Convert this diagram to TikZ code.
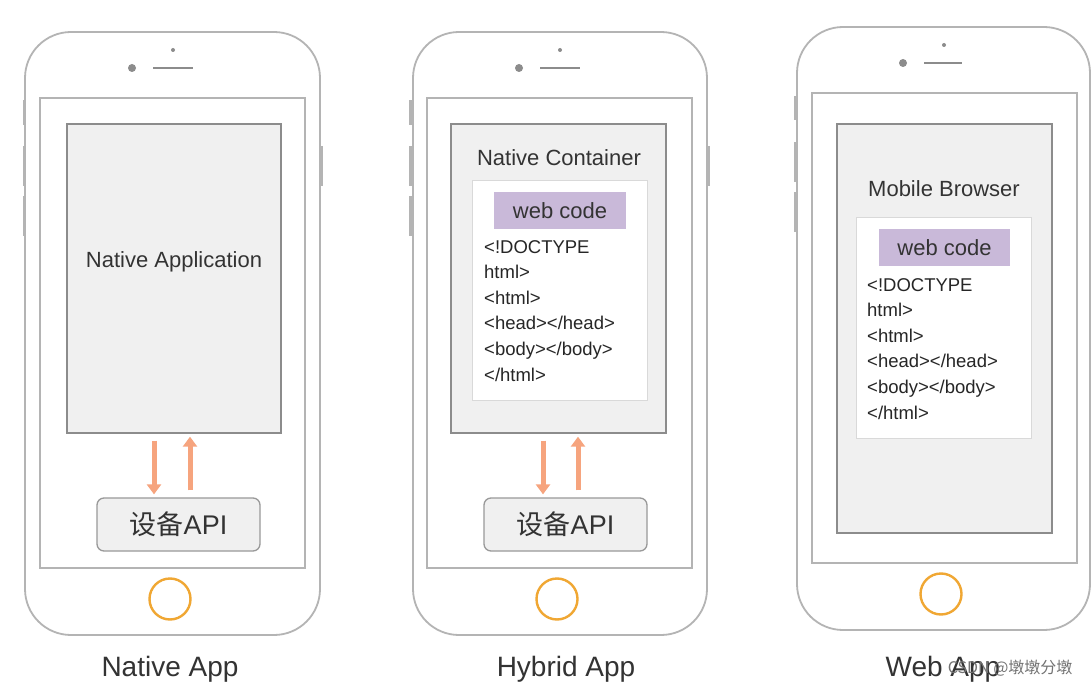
\documentclass[tikz,border=0pt]{standalone}
\usepackage{fontspec}
\setmainfont{Liberation Sans}
\newfontfamily\cjk{Noto Sans CJK SC}
\usetikzlibrary{arrows.meta}
\definecolor{txt}{HTML}{333333}
\definecolor{frame}{HTML}{B4B4B4}
\definecolor{panelfill}{HTML}{F0F0F0}
\definecolor{webc}{HTML}{C9B9D9}
\definecolor{arr}{HTML}{F6A47E}
\definecolor{homec}{HTML}{F0A733}
\begin{document}
\begin{tikzpicture}[x=1pt,y=-1pt,
  body/.style={draw=frame, line width=1.8pt, rounded corners=46pt, fill=white},
  scr/.style={draw=frame, line width=1.4pt},
  sidebtn/.style={fill=frame, draw=none},
  panel/.style={draw=black!45, line width=1.4pt, fill=panelfill, inner sep=0pt, text=txt, font=\fontsize{22}{26}\selectfont},
  codebox/.style={draw=black!15, line width=0.8pt, fill=white, inner sep=0pt},
  webcode/.style={fill=webc, inner sep=0pt, minimum width=132pt, minimum height=37pt, text=txt, font=\fontsize{22}{26}\selectfont},
  codetext/.style={anchor=north west, inner sep=0pt, align=left, text=black!85, font=\fontsize{18.5}{25.6}\selectfont},
  apibox/.style={draw=black!40, line width=1.3pt, fill=panelfill, rounded corners=7pt, minimum width=163pt, minimum height=53pt, inner sep=0pt, text=txt, font=\fontsize{27}{30}\selectfont},
  flow/.style={draw=arr, line width=5pt, -{Triangle[width=14pt,length=10pt]}, shorten <=7pt, shorten >=3pt},
  home/.style={draw=homec, line width=2.4pt, circle, minimum size=41pt, inner sep=0pt},
  caption/.style={text=txt, font=\fontsize{28}{32}\selectfont},
  cam/.style={fill=black!45, circle, inner sep=0pt},
  speaker/.style={draw=black!45, line width=1.6pt}
]
\useasboundingbox (0,0) rectangle (1092,687);
\fill[white] (0,0) rectangle (1092,687);

% ---------- Phone 1: Native App ----------
\fill[sidebtn] (22.5,100) rectangle (25.5,125);
\fill[sidebtn] (22.5,146) rectangle (25.5,186);
\fill[sidebtn] (22.5,196) rectangle (25.5,236);
\fill[sidebtn] (319.5,146) rectangle (322.5,186);
\draw[body] (25,32) rectangle (320,635);
\draw[scr] (40,98) rectangle (305,568);
\fill[cam] (132,68) circle (4pt);
\draw[speaker] (153,68) -- (193,68);
\fill[cam] (173,50) circle (2pt);
\node[panel, minimum width=214pt, minimum height=309pt] (app1) at (174,278.5) {};
\node[text=txt, font=\fontsize{22}{26}\selectfont] (app1t) at (174,262) {Native Application};
\node[apibox] (api1) at (178.5,524.5) {{\cjk 设备}API};
\draw[flow] (app1.south -| 154,0) -- (api1.north -| 154,0);
\draw[flow] (api1.north -| 190,0) -- (app1.south -| 190,0);
\node[home] (home1) at (170,599) {};
\node[caption] (cap1) at (170,669) {Native App};

% ---------- Phone 2: Hybrid App ----------
\fill[sidebtn] (408.5,100) rectangle (411.5,125);
\fill[sidebtn] (408.5,146) rectangle (411.5,186);
\fill[sidebtn] (408.5,196) rectangle (411.5,236);
\fill[sidebtn] (706.5,146) rectangle (709.5,186);
\draw[body] (413,32) rectangle (707,635);
\draw[scr] (427,98) rectangle (692,568);
\fill[cam] (519,68) circle (4pt);
\draw[speaker] (540,68) -- (580,68);
\fill[cam] (560,50) circle (2pt);
\node[panel, minimum width=215pt, minimum height=309pt] (cont2) at (558.5,278.5) {};
\node[text=txt, font=\fontsize{22}{26}\selectfont] (cont2t) at (559,158) {Native Container};
\node[codebox, minimum width=175pt, minimum height=220pt] (code2) at (559.5,290) {};
\node[webcode] (wc2) at (560,210.5) {web code};
\node[codetext] (ct2) at (484,240) {<!DOCTYPE\\html>\\<html>\\<head></head>\\<body></body>\\</html>};
\node[apibox] (api2) at (565.5,524.5) {{\cjk 设备}API};
\draw[flow] (cont2.south -| 543,0) -- (api2.north -| 543,0);
\draw[flow] (api2.north -| 578,0) -- (cont2.south -| 578,0);
\node[home] (home2) at (557,599) {};
\node[caption] (cap2) at (566,669) {Hybrid App};

% ---------- Phone 3: Web App ----------
\fill[sidebtn] (793.5,96) rectangle (796.5,120);
\fill[sidebtn] (793.5,142) rectangle (796.5,182);
\fill[sidebtn] (793.5,192) rectangle (796.5,232);
\draw[body] (797,27) rectangle (1090,630);
\draw[scr] (812,93) rectangle (1077,563);
\fill[cam] (903,63) circle (4pt);
\draw[speaker] (924,63) -- (962,63);
\fill[cam] (944,45) circle (2pt);
\node[panel, minimum width=215pt, minimum height=409pt] (brw3) at (944.5,328.5) {};
\node[text=txt, font=\fontsize{22}{26}\selectfont] (brw3t) at (944,189) {Mobile Browser};
\node[codebox, minimum width=175pt, minimum height=221pt] (code3) at (943.5,327.5) {};
\node[webcode, minimum width=131pt] (wc3) at (944.5,247.5) {web code};
\node[codetext] (ct3) at (867,278) {<!DOCTYPE\\html>\\<html>\\<head></head>\\<body></body>\\</html>};
\node[home] (home3) at (941,594) {};
\node[caption] (cap3) at (943,669) {Web App};
\node[text=black!55, font=\cjk\fontsize{16}{18}\selectfont, anchor=east] (wm) at (1076,668) {CSDN @墩墩分墩};
\end{tikzpicture}
\end{document}
